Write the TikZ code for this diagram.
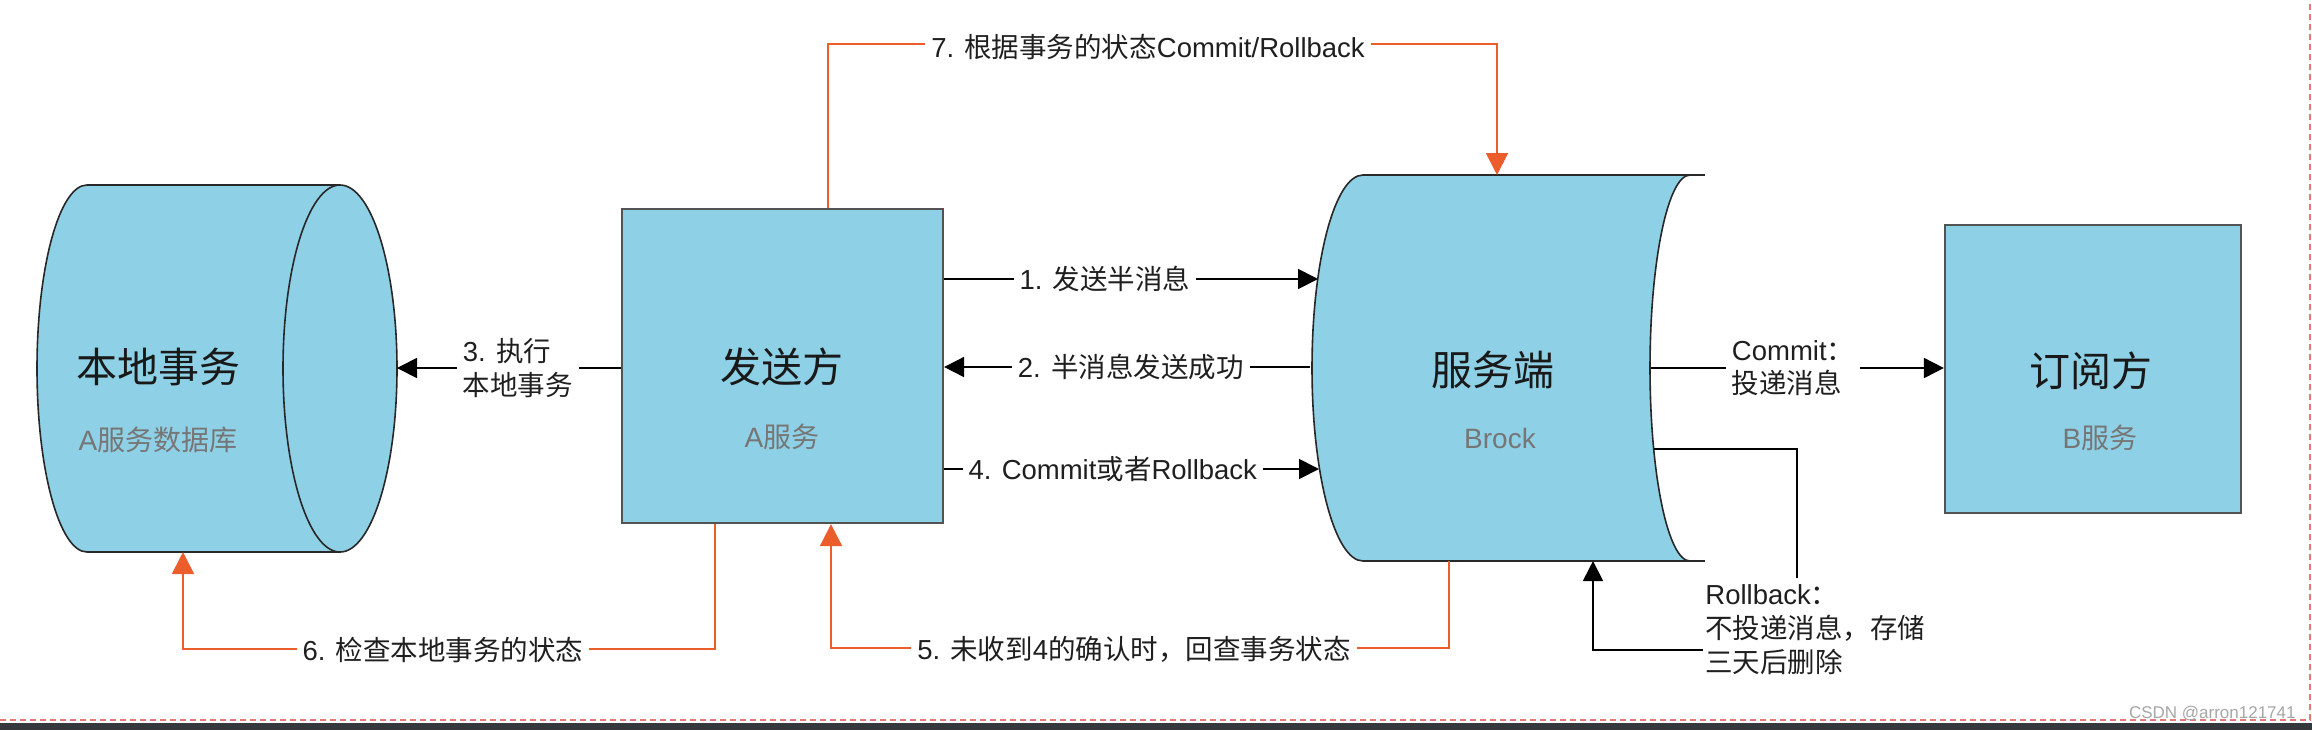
\documentclass[tikz,border=0pt]{standalone}
\usepackage{fontspec}
\setmainfont{Liberation Sans}
\newfontfamily\cjk{Noto Sans CJK SC}
\usetikzlibrary{arrows.meta}
\definecolor{fillblue}{RGB}{142,208,229}
\definecolor{redline}{RGB}{236,93,44}
\definecolor{subgray}{RGB}{118,118,118}
\definecolor{outline}{RGB}{40,40,40}
\definecolor{barcol}{RGB}{53,57,61}
\definecolor{dashred}{RGB}{230,120,120}
\begin{document}
\begin{tikzpicture}[x=0.5pt,y=-0.5pt,
  shapeline/.style={draw=outline,line width=0.8pt,fill=fillblue},
  boxnode/.style={draw=outline!80,line width=1.1pt,fill=fillblue,inner sep=0pt},
  title/.style={font=\cjk\fontsize{20.5}{24}\selectfont,text=black!90,inner sep=0pt},
  sub/.style={font=\fontsize{14}{17}\selectfont,text=subgray,inner sep=0pt},
  lbl/.style={font=\fontsize{13.75}{16.75}\selectfont,text=black!88,fill=white,inner xsep=3pt,inner ysep=1pt},
  lblblock/.style={lbl,align=left},
  blkarrow/.style={draw=black,line width=0.9pt,-{Triangle[length=10pt,width=10pt]}},
  blkline/.style={draw=black,line width=0.9pt},
  redarrow/.style={draw=redline,line width=0.9pt,-{Triangle[length=11pt,width=11pt]}},
]
\useasboundingbox (0,0) rectangle (2312,730);

% ---------- local transaction cylinder ----------
\path[shapeline] (340,185) -- (87,185)
  .. controls (59.4,185) and (37,267.2) .. (37,368.5)
  .. controls (37,469.8) and (59.4,552) .. (87,552) -- (340,552)
  .. controls (371.5,552) and (397,469.8) .. (397,368.5)
  .. controls (397,267.2) and (371.5,185) .. (340,185) -- cycle;
\draw[draw=outline,line width=0.8pt] (340,185)
  .. controls (308.5,185) and (283,267.2) .. (283,368.5)
  .. controls (283,469.8) and (308.5,552) .. (340,552);
\node[title] (dbT) at (158,367) {本地事务};
\node[sub] (dbS) at (158,440) {A{\cjk 服务数据库}};
\coordinate (dbR) at (397,368);
\coordinate (dbB) at (183,552);

% ---------- sender box ----------
\node[boxnode,minimum width=160.5pt,minimum height=157pt] (snd) at (782.5,366) {};
\node[title] (sndT) at (782,367) {发送方};
\node[sub] (sndS) at (782,437) {A{\cjk 服务}};

% ---------- broker shape ----------
\path[shapeline] (1363,175) -- (1690,175)
  .. controls (1667.9,175) and (1650,261.4) .. (1650,368)
  .. controls (1650,474.6) and (1667.9,561) .. (1690,561) -- (1363,561)
  .. controls (1334.8,561) and (1312,474.6) .. (1312,368)
  .. controls (1312,261.4) and (1334.8,175) .. (1363,175) -- cycle;
\draw[draw=outline,line width=0.8pt] (1690,175) -- (1705,175) (1690,561) -- (1705,561);
\node[title] (brkT) at (1493,370) {服务端};
\node[sub] (brkS) at (1500,438) {Brock};
\coordinate (brkL1) at (1318,279);
\coordinate (brkL2) at (1310,367);
\coordinate (brkL4) at (1319,469);
\coordinate (brkTop) at (1497,175);
\coordinate (brkBot5) at (1449,561);
\coordinate (brkBotIn) at (1593,561);
\coordinate (brkR1) at (1651,368);
\coordinate (brkR2) at (1654,449);

% ---------- subscriber box ----------
\node[boxnode,minimum width=148pt,minimum height=144pt] (sub) at (2093,369) {};
\node[title] (subT) at (2091,371) {订阅方};
\node[sub] (subS) at (2100,438) {B{\cjk 服务}};

% ---------- black connectors ----------
\draw[blkarrow] (snd.east |- 0,279) -- (brkL1)
  node[lbl,pos=0.43] (l1) {1. {\cjk 发送半消息}};
\draw[blkarrow] (brkL2) -- (snd.east |- 0,367)
  node[lbl,pos=0.49] (l2) {2. {\cjk 半消息发送成功}};
\draw[blkarrow] (snd.east |- 0,469) -- (brkL4)
  node[lbl,pos=0.45] (l4) {4. Commit{\cjk 或者}Rollback};
\draw[blkarrow] (snd.west |- 0,368) -- (dbR)
  node[lblblock,pos=0.46] (l3) {3. {\cjk 执行}\\{\cjk 本地事务}};
\draw[blkarrow] (brkR1) -- (sub.west |- 0,368)
  node[lblblock,pos=0.485] (lc) {Commit{\cjk ：}\\{\cjk 投递消息}};

\node[lblblock,anchor=north west,inner xsep=0pt,inner ysep=0pt,font=\fontsize{13.75}{17}\selectfont] (lr) at (1705,584)
  {Rollback{\cjk ：}\\{\cjk 不投递消息，存储}\\{\cjk 三天后删除}};
\coordinate (rbTop) at (1797,578);
\coordinate (rbLeft) at (1703,650);
\draw[blkline] (brkR2) -- (1797,449) -- (rbTop);
\draw[blkarrow] (rbLeft) -- (1593,650) -- (brkBotIn);

% ---------- red connectors ----------
\draw[redarrow] (snd.north -| 828,0) -- (828,44) -- (1497,44) -- (brkTop);
\node[lbl] (l7) at (1148,47) {7. {\cjk 根据事务的状态}Commit/Rollback};
\draw[redarrow] (snd.south -| 715,0) -- (715,649) -- (183,649) -- (dbB);
\node[lbl] (l6) at (443,650) {6. {\cjk 检查本地事务的状态}};
\draw[redarrow] (brkBot5) -- (1449,648) -- (831,648) -- (snd.south -| 831,0);
\node[lbl] (l5) at (1134,649) {5. {\cjk 未收到}4{\cjk 的确认时，回查事务状态}};

% ---------- screenshot frame ----------
\draw[dashred,line width=0.6pt,dash pattern=on 3pt off 2pt] (0,720) -- (2310,720) -- (2310,0);
\fill[barcol] (0,723) rectangle (2312,730);
\node[font=\fontsize{8.5}{10}\selectfont,text=gray!70,anchor=east,inner sep=0pt] (wm) at (2296,713) {CSDN @arron121741};
\end{tikzpicture}
\end{document}
